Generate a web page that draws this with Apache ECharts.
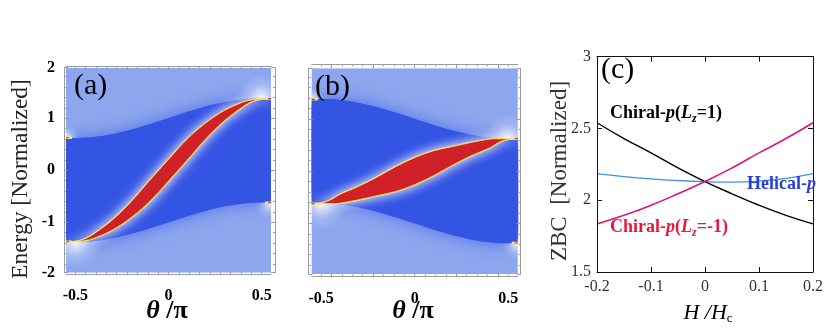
<!DOCTYPE html>
<html><head><meta charset="utf-8">
<script src="https://cdn.jsdelivr.net/npm/echarts@6.0.0/dist/echarts.min.js"></script>
<style>html,body{margin:0;padding:0;background:#fff;}#chart{width:830px;height:331px;}</style>
</head><body><div id="chart"></div>
<script>
// ---------------- data ----------------
// angle samples theta/pi
const theta = [-0.55,-0.5,-0.45,-0.4,-0.3,-0.2,-0.1,0,0.1,0.2,0.3,0.4,0.45,0.5,0.55];
// panel (a): bulk-gap edges and surface-state band
const gapUpperA = [0.625,0.62,0.625,0.639,0.693,0.777,0.883,1.0,1.117,1.223,1.307,1.361,1.375,1.38,1.375];
const gapLowerA = [-1.375,-1.38,-1.375,-1.361,-1.307,-1.223,-1.117,-1.0,-0.883,-0.777,-0.693,-0.639,-0.625,-0.62,-0.625];
const surfTopA  = [-1.375,-1.37,-1.32,-1.22,-0.95,-0.60,-0.19,0.21,0.60,0.91,1.15,1.31,1.355,1.375,1.375];
const surfBotA  = [-1.375,-1.375,-1.355,-1.31,-1.15,-0.91,-0.60,-0.21,0.19,0.60,0.95,1.22,1.32,1.37,1.375];
const tipsA = [[-0.5,-1.38],[0.5,1.38],[-0.55,0.625],[0.55,-0.625]];
// panel (b)
const gapUpperB = [1.375,1.38,1.375,1.361,1.307,1.223,1.117,1.0,0.883,0.777,0.693,0.639,0.625,0.62,0.625];
const gapLowerB = [-0.625,-0.62,-0.625,-0.639,-0.693,-0.777,-0.883,-1.0,-1.117,-1.223,-1.307,-1.361,-1.375,-1.38,-1.375];
const surfTopB  = [-0.625,-0.61,-0.55,-0.445,-0.29,-0.11,0.09,0.26,0.39,0.47,0.55,0.615,0.62,0.62,0.625];
const surfBotB  = [-0.625,-0.62,-0.62,-0.615,-0.55,-0.47,-0.39,-0.26,-0.09,0.11,0.29,0.445,0.55,0.61,0.625];
const tipsB = [[-0.5,-0.62],[0.5,0.62],[-0.55,1.375],[0.55,-1.375]];
// tick labels of (a),(b)
const thetaTicks = [-0.5, 0, 0.5];
const energyTicks = [-2, -1, 0, 1, 2];
// panel (c): zero-bias conductance vs H/Hc
const fieldH = [-0.2,-0.15,-0.1,-0.05,0,0.05,0.1,0.15,0.2];
const zbcChiralPlus  = [2.54,2.43,2.33,2.225,2.13,2.045,1.965,1.895,1.835];
const zbcChiralMinus = [1.835,1.895,1.965,2.045,2.13,2.225,2.33,2.43,2.54];
const zbcHelical     = [2.185,2.165,2.149,2.137,2.129,2.126,2.133,2.152,2.185];
const fieldTicks = [-0.2,-0.1,0,0.1,0.2];
const zbcTicks = [1.5,2,2.5,3];

// ---------------- drawing helpers ----------------
const SERIF = '"Liberation Serif","Times New Roman",serif';
const BG = '#8da6ee', GAP = '#3454e4', RED = '#cf2127', YEL = '#f7ea6a';
const XR = [-0.55, 0.55], YR = [-1.97, 1.97];

function smoothSeg(p){
  let d='';
  for(let i=0;i<p.length-1;i++){
    const p0=p[i-1]||p[i], p1=p[i], p2=p[i+1], p3=p[i+2]||p[i+1];
    const c1=[p1[0]+(p2[0]-p0[0])/6, p1[1]+(p2[1]-p0[1])/6];
    const c2=[p2[0]-(p3[0]-p1[0])/6, p2[1]-(p3[1]-p1[1])/6];
    d+=` C${c1[0]},${c1[1]} ${c2[0]},${c2[1]} ${p2[0]},${p2[1]}`;
  }
  return d;
}
function bandPath(api, xs, top, bot){
  const T = xs.map((x,i)=>api.coord([x, top[i]]));
  const B = xs.map((x,i)=>api.coord([x, bot[i]])).reverse();
  return `M${T[0][0]},${T[0][1]}`+smoothSeg(T)+` L${B[0][0]},${B[0][1]}`+smoothSeg(B)+' Z';
}
const GLOW_R = [26, 24, 13, 17];
function heatPanel(up, lo, top, bot, tips){
  return function(params, api){
    const tl = api.coord([XR[0], YR[1]]), br = api.coord([XR[1], YR[0]]);
    const gapD = bandPath(api, theta, up, lo);
    const surfD = bandPath(api, theta, top, bot);
    const ch = [];
    ch.push({type:'rect', shape:{x:tl[0],y:tl[1],width:br[0]-tl[0],height:br[1]-tl[1]}, style:{fill:BG}});
    ch.push({type:'path', shape:{pathData:gapD}, style:{fill:GAP, shadowBlur:16, shadowColor:'rgba(60,95,232,0.8)'}});
    tips.forEach((t,i)=>{
      const c = api.coord(t);
      ch.push({type:'circle', shape:{cx:c[0], cy:c[1], r:GLOW_R[i]}, style:{fill:new echarts.graphic.RadialGradient(0.5,0.5,0.5,[
        {offset:0,color:'rgba(255,255,255,0.95)'},{offset:0.25,color:'rgba(255,255,255,0.6)'},{offset:0.6,color:'rgba(255,255,255,0.2)'},{offset:1,color:'rgba(255,255,255,0)'}])}});
    });
    ch.push({type:'path', shape:{pathData:gapD}, style:{fill:GAP}});
    ch.push({type:'path', shape:{pathData:surfD}, style:{fill:RED, stroke:YEL, lineWidth:1.6, shadowBlur:11, shadowColor:'#ffffff'}});
    ch.push({type:'path', shape:{pathData:surfD}, style:{fill:RED, stroke:YEL, lineWidth:0.9}});
    // bright spots where gap edges hit the plot border
    [[XR[0], up[0]],[XR[0], lo[0]],[XR[1], up[up.length-1]],[XR[1], lo[lo.length-1]]].forEach(p=>{
      const c = api.coord(p);
      const dir = p[0] < 0 ? 1 : -1;
      ch.push({type:'line', shape:{x1:c[0], y1:c[1], x2:c[0]+dir*6, y2:c[1]}, style:{stroke:YEL, lineWidth:2.4}});
      ch.push({type:'line', shape:{x1:c[0], y1:c[1], x2:c[0]+dir*3, y2:c[1]}, style:{stroke:RED, lineWidth:1.1}});
    });
    return {type:'group', children:ch};
  };
}

// frame axes, Mathematica style
function rangeTicks(lo, hi, step){ const a=[]; for(let k=Math.ceil(lo/step-1e-9); k*step<=hi+1e-9; k++) a.push(+(k*step).toFixed(5)); return a; }
const clamp=(v,r)=>Math.min(r[1],Math.max(r[0],v));
const xMaj = rangeTicks(-0.55,0.55,2/9), xMin = rangeTicks(-0.55,0.55,1/18).filter(v=>!xMaj.some(m=>Math.abs(m-v)<1e-4));
const yMaj = energyTicks.map(v=>clamp(v,YR)), yMin = rangeTicks(-1.97,1.97,0.2).filter(v=>Math.abs(v-Math.round(v))>1e-4);
const FRAME = '#9c9c9c';
function frameAx(dim, grid, pos, offset, labels){
  const range = dim==='x'?XR:YR;
  const maj = dim==='x'?xMaj:yMaj, mn = dim==='x'?xMin:yMin;
  const base = {type:'value', gridIndex:grid, position:pos, offset:offset, min:range[0], max:range[1], z:5,
    splitLine:{show:false}};
  const labelOf = v => { const t = labels.find(l => Math.abs(clamp(l,range)-v) < 1e-6); return t===undefined ? '' : String(t); };
  const a1 = Object.assign({}, base, {
    axisLine:{show:true, onZero:false, lineStyle:{color:FRAME, width:1}},
    axisTick:{show:true, inside:true, length:4, customValues:maj, lineStyle:{color:FRAME}},
    axisLabel: labels ? {show:true, customValues:labels.map(v=>clamp(v,range)), formatter:labelOf,
      fontFamily:SERIF, fontWeight:'bold', fontSize:16, color:'#000', margin: dim==='x'?14:9} : {show:false}
  });
  const a2 = Object.assign({}, base, {
    axisLine:{show:false, onZero:false}, axisTick:{show:true, inside:true, length:2, customValues:mn, lineStyle:{color:FRAME}}, axisLabel:{show:false}
  });
  return [a1, a2];
}

const xAxes = [], yAxes = [];
// grid 0 : (a)
xAxes.push(...frameAx('x',0,'bottom',1.3,thetaTicks), ...frameAx('x',0,'top',1.7,null));
yAxes.push(...frameAx('y',0,'left',2,energyTicks), ...frameAx('y',0,'right',4,null));
// grid 1 : (b)
xAxes.push(...frameAx('x',1,'bottom',2.5,thetaTicks), ...frameAx('x',1,'top',4,null));
yAxes.push(...frameAx('y',1,'left',3,null), ...frameAx('y',1,'right',3,null));
// grid 2 : (c)
const cAx = (pos, lab, dim) => ({type:'value', gridIndex:2, position:pos, z:5,
  min: dim==='x'?fieldTicks[0]:zbcTicks[0], max: dim==='x'?fieldTicks[fieldTicks.length-1]:zbcTicks[zbcTicks.length-1],
  interval: dim==='x'?0.1:0.5,
  axisLine:{show:true, onZero:false, lineStyle:{color:'#111', width:1}},
  axisTick:{show:true, inside:true, length:5, lineStyle:{color:'#111'}},
  splitLine:{show:false},
  axisLabel: lab ? {show:true, fontFamily:SERIF, fontSize:16, color:'#333', margin: dim==='x'?7:6,
     formatter: v => String(+v.toFixed(1))} : {show:false}});
const xCi = xAxes.length; xAxes.push(cAx('bottom',true,'x'), cAx('top',false,'x'));
const yCi = yAxes.length; yAxes.push(cAx('left',true,'y'), cAx('right',false,'y'));

const lineS = (name, data, color, w) => ({type:'line', name, xAxisIndex:xCi, yAxisIndex:yCi, smooth:true, symbol:'none',
  data: fieldH.map((h,i)=>[h, data[i]]), lineStyle:{color, width:w}, z:3});

const rich = (size) => ({
  n:{fontFamily:SERIF, fontWeight:'bold', fontSize:size, lineHeight:24, verticalAlign:'middle'},
  i:{fontFamily:SERIF, fontWeight:'bold', fontStyle:'italic', fontSize:size, lineHeight:24, verticalAlign:'middle'},
  sub:{fontFamily:SERIF, fontWeight:'bold', fontStyle:'italic', fontSize:12, lineHeight:12, verticalAlign:'bottom'}
});
const thetaRich = {t:{fontFamily:SERIF, fontWeight:'bold', fontStyle:'italic', fontSize:26}, s:{fontFamily:SERIF, fontWeight:'bold', fontSize:26}};

const option = {
  backgroundColor:'#ffffff',
  animation:false,
  grid:[
    {left:66, top:67.7, width:205, height:205, containLabel:false},
    {left:311.7, top:68.3, width:206, height:205.7, containLabel:false},
    {left:597, top:56.7, width:216, height:215.3, containLabel:false}
  ],
  xAxis: xAxes, yAxis: yAxes,
  series:[
    {type:'custom', xAxisIndex:0, yAxisIndex:0, clip:true, data:[[0,0]], renderItem:heatPanel(gapUpperA,gapLowerA,surfTopA,surfBotA,tipsA), z:1},
    {type:'custom', xAxisIndex:4, yAxisIndex:4, clip:true, data:[[0,0]], renderItem:heatPanel(gapUpperB,gapLowerB,surfTopB,surfBotB,tipsB), z:1},
    lineS('Helical-p', zbcHelical, '#3f8ff0', 1.3),
    lineS('Chiral-p(Lz=1)', zbcChiralPlus, '#000000', 1.4),
    lineS('Chiral-p(Lz=-1)', zbcChiralMinus, '#e0147c', 1.6)
  ],
  graphic:[
    {type:'text', x:74, y:86, z:10, style:{text:'(a)', font:'30px '+SERIF, fill:'#000', textVerticalAlign:'middle', verticalAlign:'middle'}},
    {type:'text', x:315, y:87, z:10, style:{text:'(b)', font:'30px '+SERIF, fill:'#000', textVerticalAlign:'middle', verticalAlign:'middle'}},
    {type:'text', x:601, y:70, z:10, style:{text:'(c)', font:'30px '+SERIF, fill:'#000', textVerticalAlign:'middle', verticalAlign:'middle'}},
    {type:'text', x:21, y:179, rotation:Math.PI/2, style:{text:'Energy [Normalized]', font:'23.5px '+SERIF, fill:'#222', textAlign:'center', align:'center', textVerticalAlign:'middle', verticalAlign:'middle'}},
    {type:'text', x:560, y:171, rotation:Math.PI/2, style:{text:'ZBC  [Normalized]', font:'23px '+SERIF, fill:'#333', textAlign:'center', align:'center', textVerticalAlign:'middle', verticalAlign:'middle'}},
    {type:'text', x:167, y:311, style:{text:'{t|θ}{s| /π}', textAlign:'center', align:'center', textVerticalAlign:'middle', verticalAlign:'middle', rich:thetaRich}},
    {type:'text', x:413, y:311, style:{text:'{t|θ}{s| /π}', textAlign:'center', align:'center', textVerticalAlign:'middle', verticalAlign:'middle', rich:thetaRich}},
    {type:'text', x:708, y:313, style:{text:'{i|H /H}{sub|c}', textAlign:'center', align:'center', textVerticalAlign:'middle', verticalAlign:'middle',
      rich:{i:{fontFamily:SERIF, fontStyle:'italic', fontSize:22, lineHeight:24, verticalAlign:'middle', color:'#222'},
            sub:{fontFamily:SERIF, fontSize:13, lineHeight:13, verticalAlign:'bottom', color:'#222'}}}},
    {type:'text', x:610, y:113, z:10, style:{text:'{n|Chiral-}{i|p}{n|(}{i|L}{sub|z}{n|=1)}', fill:'#000', textVerticalAlign:'middle', verticalAlign:'middle', rich:rich(18)}},
    {type:'text', x:610, y:227, z:10, style:{text:'{n|Chiral-}{i|p}{n|(}{i|L}{sub|z}{n|=-1)}', fill:'#e8183c', textVerticalAlign:'middle', verticalAlign:'middle', rich:rich(18)}},
    {type:'text', x:747, y:184, z:10, style:{text:'{n|Helical-}{i|p}', fill:'#2b40d2', textVerticalAlign:'middle', verticalAlign:'middle', rich:rich(18)}}
  ]
};
const chart = echarts.init(document.getElementById('chart'), null, {renderer:'canvas', width:830, height:331});
chart.setOption(option);
</script></body></html>
